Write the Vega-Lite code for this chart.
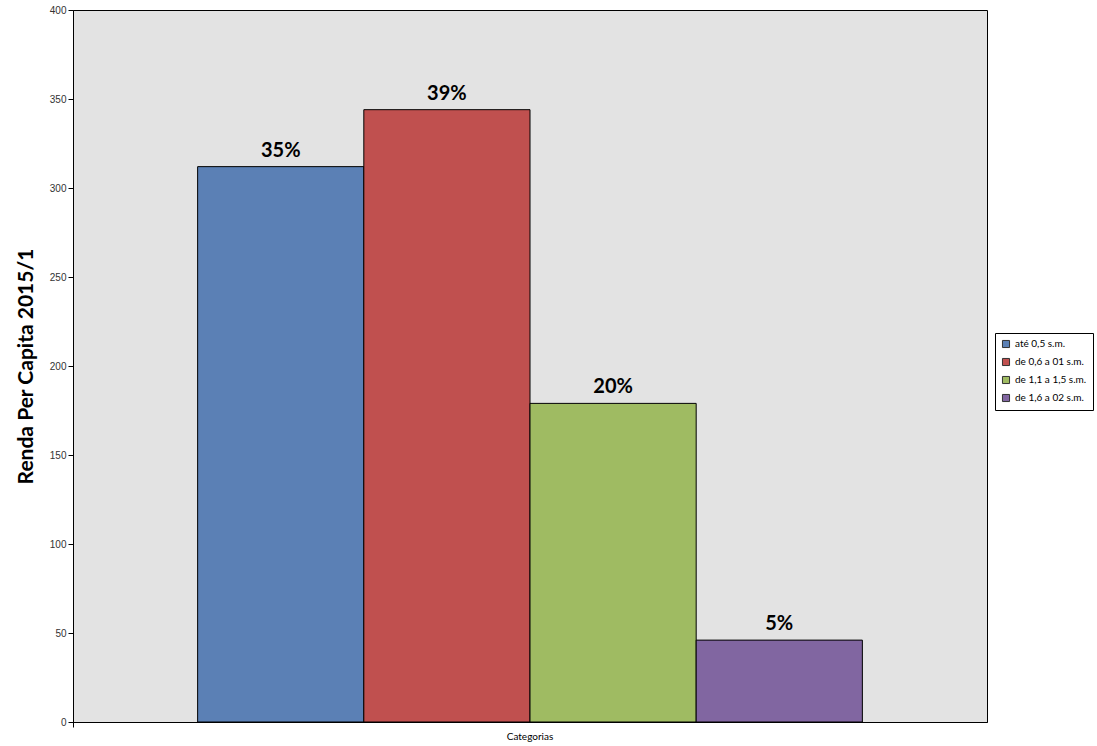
{
  "$schema": "https://vega.github.io/schema/vega-lite/v6.json",
  "width": 914,
  "height": 712,
  "autosize": "none",
  "padding": {"left": 73, "top": 10, "right": 110, "bottom": 24},
  "background": "white",
  "config": {
    "view": {"fill": "#E3E3E3", "stroke": "black", "strokeWidth": 1},
    "font": "Lato"
  },
  "data": {
    "values": [
      {"cat": "Categorias", "serie": "até 0,5 s.m.", "valor": 312, "pct": "35%"},
      {"cat": "Categorias", "serie": "de 0,6 a 01 s.m.", "valor": 344, "pct": "39%"},
      {"cat": "Categorias", "serie": "de 1,1 a 1,5 s.m.", "valor": 179, "pct": "20%"},
      {"cat": "Categorias", "serie": "de 1,6 a 02 s.m.", "valor": 46, "pct": "5%"}
    ]
  },
  "encoding": {
    "x": {
      "field": "cat",
      "type": "nominal",
      "scale": {"paddingInner": 0, "paddingOuter": 0},
      "axis": {
        "title": null,
        "labelAngle": 0,
        "labelFont": "Lato",
        "labelFontSize": 10,
        "labelColor": "black",
        "labelPadding": 4,
        "domainColor": "black",
        "tickColor": "black",
        "tickSize": 5,
        "bandPosition": 0
      }
    },
    "xOffset": {
      "field": "serie",
      "type": "nominal",
      "scale": {"paddingInner": 0, "paddingOuter": 0.75},
      "sort": null
    },
    "y": {
      "field": "valor",
      "type": "quantitative",
      "scale": {"domain": [0, 400], "nice": false},
      "axis": {
        "title": "Renda Per Capita 2015/1",
        "titleFont": "Lato",
        "titleFontSize": 21,
        "titleFontWeight": "bold",
        "titleColor": "black",
        "titlePadding": 13,
        "values": [0, 50, 100, 150, 200, 250, 300, 350, 400],
        "grid": false,
        "labelFont": "Liberation Sans",
        "labelFontSize": 10,
        "labelColor": "#333333",
        "labelPadding": 2,
        "domainColor": "black",
        "tickColor": "black",
        "tickSize": 5
      }
    }
  },
  "layer": [
    {
      "mark": {"type": "bar", "stroke": "black", "strokeWidth": 1},
      "encoding": {
        "color": {
          "field": "serie",
          "type": "nominal",
          "sort": null,
          "scale": {
            "domain": ["até 0,5 s.m.", "de 0,6 a 01 s.m.", "de 1,1 a 1,5 s.m.", "de 1,6 a 02 s.m."],
            "range": ["#5B80B5", "#C0504F", "#9FBB62", "#8166A1"]
          },
          "legend": {
            "title": null,
            "orient": "none",
            "legendX": 922,
            "legendY": 323,
            "fillColor": "white",
            "strokeColor": "black",
            "padding": 6,
            "symbolType": "square",
            "symbolSize": 50,
            "symbolStrokeColor": "#333333",
            "symbolStrokeWidth": 1,
            "labelFont": "Lato",
            "labelFontSize": 10,
            "labelColor": "black",
            "rowPadding": 6,
            "labelOffset": 4
          }
        }
      }
    },
    {
      "mark": {"type": "text", "baseline": "bottom", "dy": -6, "fontSize": 20, "fontWeight": "bold", "font": "Lato", "color": "black"},
      "encoding": {
        "text": {"field": "pct"}
      }
    }
  ]
}
